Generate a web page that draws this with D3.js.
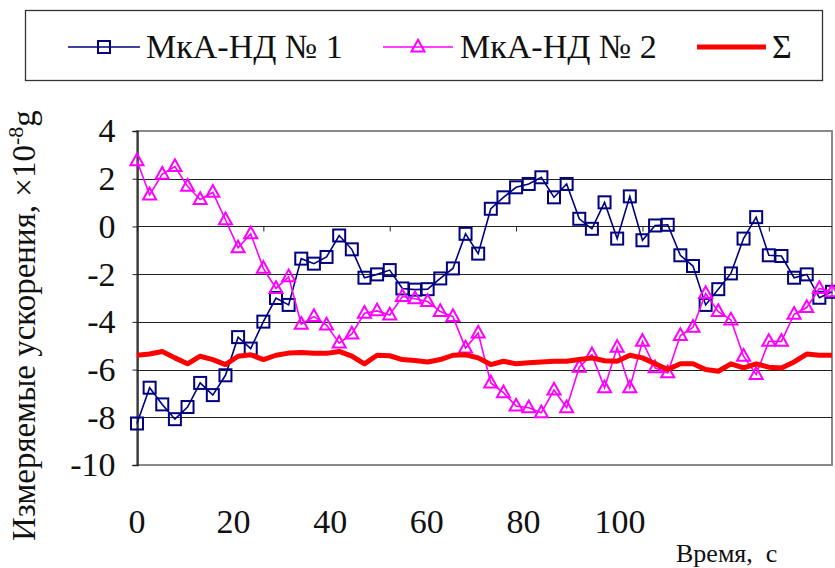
<!DOCTYPE html>
<html>
<head>
<meta charset="utf-8">
<script src="https://cdn.jsdelivr.net/npm/d3@7"></script>
</head>
<body style="margin:0">
<svg width="835" height="568" font-family="Liberation Serif">
<text id="xtitle" x="676" y="562" font-family="Liberation Serif" font-size="26" fill="#111">Время,&#160; с</text>
</svg>
<script>
// readings, step 2 s (56 points)
var times = d3.range(0, 112, 2);

var mka1 = [-8.26, -6.76, -7.46, -8.08, -7.57, -6.56, -7.07, -6.24, -4.64, -5.12,
            -3.99, -3.0, -3.29, -1.35, -1.56, -1.28, -0.38, -0.96, -2.15, -2.01,
            -1.83, -2.60, -2.65, -2.63, -2.18, -1.76, -0.31, -1.14, 0.74, 1.22,
            1.64, 1.78, 2.06, 1.22, 1.78, 0.32, -0.10, 1.01, -0.51, 1.26,
            -0.58, 0.04, 0.07, -1.21, -1.66, -3.29, -2.63, -1.97, -0.51, 0.39,
            -1.21, -1.24, -2.15, -2.01, -2.99, -2.74];

var mka2 = [2.75, 1.32, 2.19, 2.51, 1.68, 1.13, 1.43, 0.28, -0.90, -0.31,
            -1.76, -2.60, -2.11, -4.10, -3.78, -4.13, -4.89, -4.51, -3.64, -3.54,
            -3.71, -2.94, -3.03, -3.15, -3.57, -3.78, -5.10, -4.47, -6.56, -6.97,
            -7.53, -7.60, -7.81, -6.86, -7.60, -5.90, -5.38, -6.76, -5.07, -6.76,
            -4.82, -5.93, -6.14, -4.57, -4.23, -2.81, -3.57, -3.92, -5.44, -6.21,
            -4.82, -4.82, -3.68, -3.40, -2.60, -2.74];

var sigma = [-5.40, -5.35, -5.24, -5.51, -5.76, -5.44, -5.58, -5.79, -5.44, -5.38,
             -5.58, -5.40, -5.31, -5.28, -5.32, -5.32, -5.24, -5.44, -5.76, -5.40,
             -5.42, -5.58, -5.62, -5.68, -5.58, -5.40, -5.38, -5.51, -5.79, -5.65,
             -5.76, -5.71, -5.68, -5.65, -5.65, -5.58, -5.51, -5.63, -5.65, -5.40,
             -5.51, -5.76, -6.00, -5.76, -5.76, -6.00, -6.07, -5.76, -5.93, -5.76,
             -5.90, -5.93, -5.68, -5.35, -5.40, -5.40];

var yTicks = [4, 2, 0, -2, -4, -6, -8, -10];
var timeLabels = [0, 20, 40, 60, 80, 100];
var seriesNames = ["МкА-НД № 1", "МкА-НД № 2", "Σ"];

var FONT = "Liberation Serif";
var svg = d3.select("svg");
var top = svg.select("#xtitle");  // keep the static label on top

var x = d3.scaleLinear().domain([0, 110]).range([137, 832]);
var y = d3.scaleLinear().domain([-10, 4]).range([465, 131]);
// the time labels under the chart sit on their own spacing in the picture
var xLab = d3.scaleLinear().domain([0, 100]).range([137, 620]);

// plot frame
svg.append("rect")
    .attr("x", x(0)).attr("y", y(4))
    .attr("width", x(110) - x(0)).attr("height", y(-10) - y(4))
    .attr("fill", "#fff").attr("stroke", "#8a8a8a").attr("stroke-width", 2);

// grid
svg.append("g")
  .selectAll("line")
  .data(yTicks.filter(d => d > -10 && d < 4))
  .enter().append("line")
    .attr("x1", x(0)).attr("x2", x(110))
    .attr("y1", d => Math.round(y(d)) + 0.5).attr("y2", d => Math.round(y(d)) + 0.5)
    .attr("stroke", "#222").attr("stroke-width", 1);

// horizontal axis through zero, ticks every 20 s
var xAxis = d3.axisBottom(x).tickValues(d3.range(0, 111, 20)).tickSize(5).tickFormat("");
svg.append("g")
    .attr("transform", "translate(0," + (Math.round(y(0)) + 0.5) + ")")
    .call(xAxis)
    .call(g => g.select(".domain").remove())
    .call(g => g.selectAll("line").attr("stroke", "#222"));

// left axis
var yAxis = d3.axisLeft(y).tickValues(yTicks).tickSize(5).tickPadding(17)
    .tickFormat(d => d < 0 ? "-" + Math.abs(d) : d);
svg.append("g")
    .attr("transform", "translate(" + (x(0) + 0.5) + ",0)")
    .call(yAxis)
    .attr("font-family", FONT)
    .attr("font-size", 34)
    .call(g => g.select(".domain").attr("stroke", "#222").attr("stroke-width", 1.5))
    .call(g => g.selectAll("line").attr("stroke", "#222"))
    .call(g => g.selectAll("text")
        .attr("font-family", FONT)
        .attr("font-size", 34).attr("fill", "#111"));

// time labels
svg.append("g").selectAll("text")
  .data(timeLabels)
  .enter().append("text")
    .attr("x", d => xLab(d)).attr("y", 533)
    .attr("text-anchor", "middle")
    .attr("font-family", FONT)
    .attr("font-size", 34).attr("fill", "#111")
    .text(d => d);

// y label
var yl = svg.append("text")
    .attr("transform", "translate(35,541) rotate(-90)")
    .attr("font-family", FONT)
    .attr("font-size", 33).attr("fill", "#111");
yl.append("tspan").text("Измеряемые ускорения, ×10");
yl.append("tspan").attr("dy", -12).attr("font-size", 22).text("-8");
yl.append("tspan").attr("dy", 12).text("g");

// series
var line = d3.line().x((d, i) => x(times[i])).y(d => y(d));

function triPath(cx, cy, s) {
  var h = s * 0.9;
  return "M" + cx + "," + (cy - h * 0.62) + "L" + (cx + s / 2) + "," + (cy + h * 0.38) +
         "L" + (cx - s / 2) + "," + (cy + h * 0.38) + "Z";
}

var g1 = svg.append("g");
g1.append("path").datum(mka1)
    .attr("d", line).attr("fill", "none")
    .attr("stroke", "#000080").attr("stroke-width", 1.6);
g1.selectAll("rect").data(mka1).enter().append("rect")
    .attr("x", (d, i) => x(times[i]) - 6).attr("y", d => y(d) - 6)
    .attr("width", 12).attr("height", 12)
    .attr("fill", "none").attr("stroke", "#000080").attr("stroke-width", 2);

var g2 = svg.append("g");
g2.append("path").datum(mka2)
    .attr("d", line).attr("fill", "none")
    .attr("stroke", "#ff00ff").attr("stroke-width", 1.6);
g2.selectAll("path.m").data(mka2).enter().append("path").attr("class", "m")
    .attr("d", (d, i) => triPath(x(times[i]), y(d), 13))
    .attr("fill", "none").attr("stroke", "#ff00ff").attr("stroke-width", 2);

var g3 = svg.append("g");
g3.append("path").datum(sigma)
    .attr("d", line).attr("fill", "none")
    .attr("stroke", "#ff0000").attr("stroke-width", 5)
    .attr("stroke-linejoin", "round");

// legend
svg.append("rect")
    .attr("x", 25.5).attr("y", 10.5).attr("width", 797).attr("height", 70)
    .attr("fill", "#fff").attr("stroke", "#333").attr("stroke-width", 1.3);

var legY = 47;
var legItems = [
  {name: seriesNames[0], x1: 68, x2: 140, color: "#000080", w: 1.6, tx: 146, marker: "sq"},
  {name: seriesNames[1], x1: 383, x2: 453, color: "#ff00ff", w: 1.6, tx: 460, marker: "tri"},
  {name: seriesNames[2], x1: 697, x2: 766, color: "#ff0000", w: 5, tx: 772, marker: null}
];
var leg = svg.append("g").selectAll("g").data(legItems).enter().append("g");
leg.append("line")
    .attr("x1", d => d.x1).attr("x2", d => d.x2)
    .attr("y1", legY).attr("y2", legY)
    .attr("stroke", d => d.color).attr("stroke-width", d => d.w);
leg.filter(d => d.marker === "sq").append("rect")
    .attr("x", d => (d.x1 + d.x2) / 2 - 6).attr("y", legY - 6)
    .attr("width", 12).attr("height", 12)
    .attr("fill", "none").attr("stroke", d => d.color).attr("stroke-width", 2);
leg.filter(d => d.marker === "tri").append("path")
    .attr("d", d => triPath((d.x1 + d.x2) / 2, legY, 13))
    .attr("fill", "none").attr("stroke", d => d.color).attr("stroke-width", 2);
leg.append("text")
    .attr("x", d => d.tx).attr("y", legY + 11)
    .attr("font-family", FONT)
    .attr("font-size", 34).attr("fill", "#111")
    .text(d => d.name);
</script>
</body>
</html>
